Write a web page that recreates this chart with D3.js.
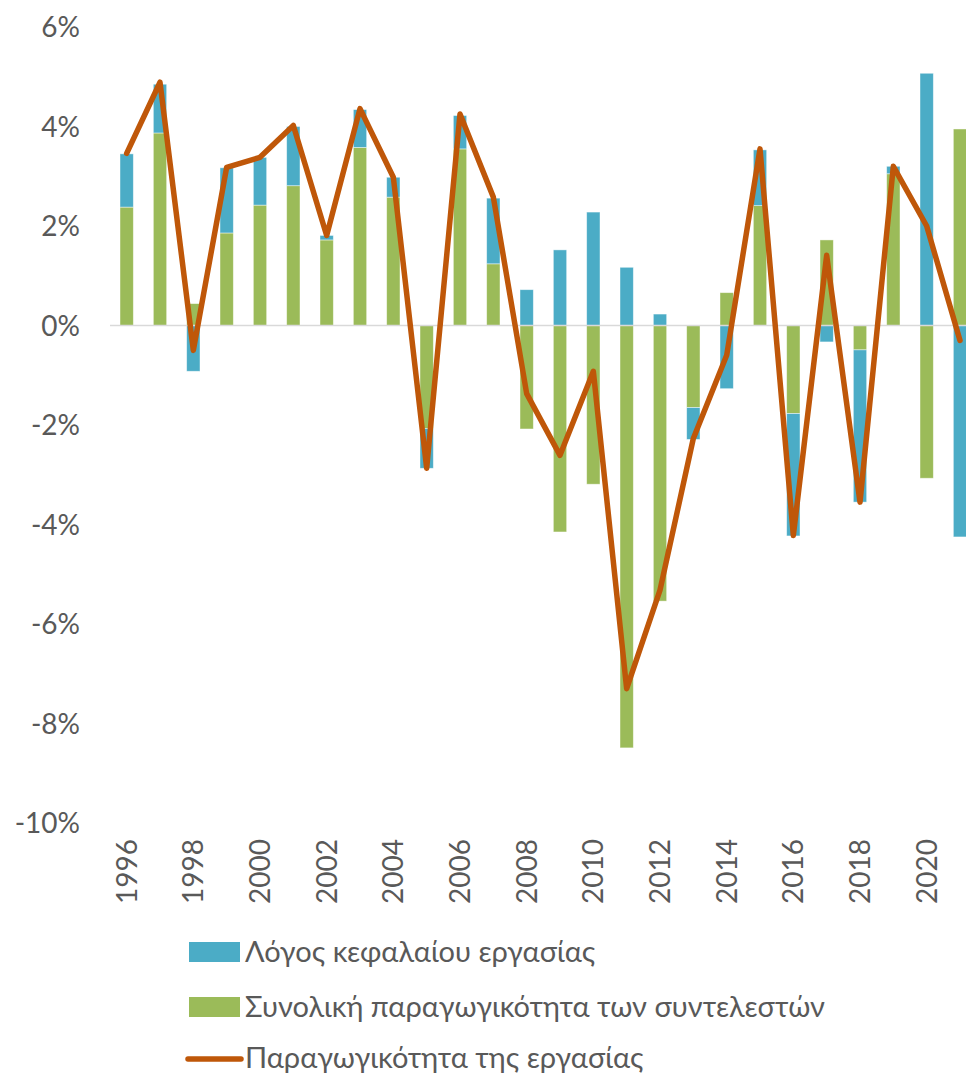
<!DOCTYPE html>
<html><head><meta charset="utf-8">
<script src="https://cdn.jsdelivr.net/npm/d3@7"></script>
<style>
html,body{margin:0;padding:0;background:#fff;overflow:hidden}
text{font-family:Lato,"Open Sans",sans-serif;fill:#595959}
</style></head><body>
<svg id="c" width="966" height="1077"></svg>
<script>
const years = [1996,1997,1998,1999,2000,2001,2002,2003,2004,2005,2006,2007,2008,2009,2010,2011,2012,2013,2014,2015,2016,2017,2018,2019,2020,2021];
const capitalLabour = [1.07,0.98,-0.92,1.31,0.96,1.19,0.09,0.76,0.40,-0.80,0.67,1.32,0.72,1.52,2.28,1.17,0.23,-0.64,-1.27,1.12,-2.46,-0.33,-3.06,0.15,5.07,-4.25];
const tfp = [2.38,3.87,0.44,1.86,2.42,2.81,1.72,3.58,2.58,-2.07,3.55,1.24,-2.08,-4.15,-3.19,-8.49,-5.54,-1.65,0.66,2.41,-1.77,1.72,-0.49,3.05,-3.07,3.95];
const labourProd = [3.46,4.89,-0.50,3.18,3.38,4.02,1.81,4.36,2.98,-2.87,4.25,2.58,-1.37,-2.61,-0.92,-7.30,-5.32,-2.27,-0.60,3.55,-4.22,1.41,-3.55,3.20,2.00,-0.30];
const yTicks = [6,4,2,0,-2,-4,-6,-8,-10];
const legendLabels = ["Λόγος κεφαλαίου εργασίας","Συνολική παραγωγικότητα των συντελεστών","Παραγωγικότητα της εργασίας"];

const colors = {klr:"#4BACC6", tfp:"#9BBB59", lp:"#BF5709"};
const svg = d3.select("#c");

const x = d3.scaleBand().domain(years).range([110, 976.67]).paddingInner(0.6).paddingOuter(0.3);
const y = d3.scaleLinear().domain([-10, 6]).range([823, 27]);

const rows = years.map((yr,i)=>({year:yr, tfp:tfp[i], klr:capitalLabour[i]}));
const stack = d3.stack().keys(["tfp","klr"]).offset(d3.stackOffsetDiverging);
const series = stack(rows);

// y tick labels
svg.append("g").selectAll("text").data(yTicks).join("text")
  .attr("x", 80).attr("y", d=>y(d)).attr("dy","0.36em")
  .attr("text-anchor","end").style("font-size","28px")
  .text(d=>d+"%");

// bars
svg.append("g").selectAll("g").data(series).join("g")
  .attr("fill", d=>colors[d.key])
  .selectAll("rect").data(d=>d).join("rect")
  .attr("x", d=>x(d.data.year))
  .attr("width", x.bandwidth())
  .attr("y", d=>y(Math.max(d[0],d[1])))
  .attr("height", d=>Math.abs(y(d[0])-y(d[1])))
  .attr("stroke","rgba(255,255,255,0.55)").attr("stroke-width",0.8);

// zero line
svg.append("line").attr("x1",110).attr("x2",980).attr("y1",y(0)).attr("y2",y(0))
  .attr("stroke","#D9D9D9").attr("stroke-width",1.5);

// line
const line = d3.line().x((d,i)=>x(years[i])+x.bandwidth()/2).y(d=>y(d));
svg.append("path").datum(labourProd).attr("d", line)
  .attr("fill","none").attr("stroke",colors.lp).attr("stroke-width",5.5)
  .attr("stroke-linejoin","round").attr("stroke-linecap","round");

// x labels
svg.append("g").selectAll("text").data(years.filter((d,i)=>i%2===0)).join("text")
  .attr("transform", d=>`translate(${x(d)+x.bandwidth()/2},839) rotate(-90)`)
  .attr("dy","0.36em").attr("text-anchor","end").style("font-size","28px")
  .text(d=>d);

// legend
const rowY = [952, 1007, 1058];
const lg = svg.append("g");
lg.append("rect").attr("x",189).attr("y",rowY[0]-10).attr("width",51).attr("height",20).attr("fill",colors.klr);
lg.append("rect").attr("x",189).attr("y",rowY[1]-10).attr("width",51).attr("height",20).attr("fill",colors.tfp);
lg.append("line").attr("x1",188).attr("x2",241).attr("y1",rowY[2]+1).attr("y2",rowY[2]+1)
  .attr("stroke",colors.lp).attr("stroke-width",5.5).attr("stroke-linecap","round");
lg.selectAll("text").data(legendLabels).join("text")
  .attr("x",245).attr("y",(d,i)=>rowY[i]).attr("dy","0.36em").style("font-size","29px")
  .text(d=>d);
</script></body></html>
